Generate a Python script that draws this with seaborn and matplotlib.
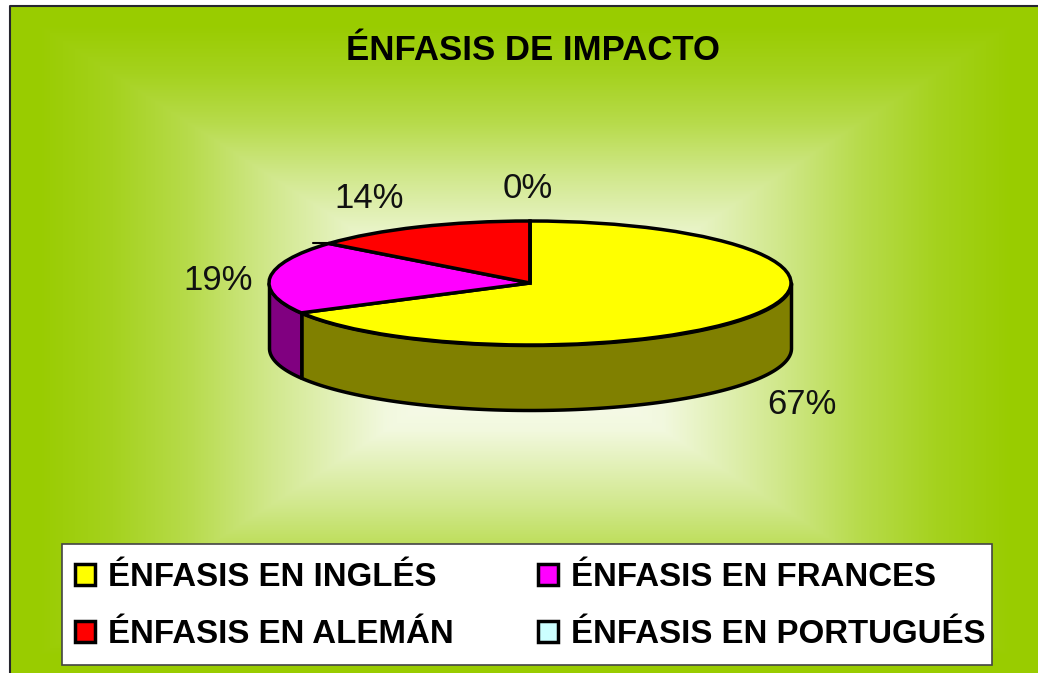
# --- Import Libraries ---
import numpy as np
import matplotlib
matplotlib.use("Agg")
import matplotlib.pyplot as plt
from matplotlib.colors import LinearSegmentedColormap
from matplotlib.patches import Patch, Rectangle
import seaborn as sns

# --- Data ---
title = "ÉNFASIS DE IMPACTO"
categories = ["ÉNFASIS EN INGLÉS", "ÉNFASIS EN FRANCES", "ÉNFASIS EN ALEMÁN", "ÉNFASIS EN PORTUGUÉS"]
shares = [67, 19, 14, 0]
top_colors = ["#FFFF00", "#FF00FF", "#FF0000", "#CCFFFF"]
side_colors = ["#808000", "#800080", "#800000", "#668080"]

W, H = 1038, 673
LINE = 2.5
sns.set_theme(style="white")
plt.rcParams['font.family'] = ['Liberation Sans', 'DejaVu Sans']

fig = plt.figure(figsize=(W / 100, H / 100), dpi=100, facecolor="white")

# --- Background ---
bg = fig.add_axes([0, 0, 1, 1])
bg.set_xlim(0, W)
bg.set_ylim(H, 0)
bg.axis("off")
yy, xx = np.mgrid[6:H, 10:W]
t = np.maximum(np.abs(xx - 524) / 514, np.abs(yy - 340) / 333)
# how far the colour has gone from near white to green, read at a few spots
amount = np.interp(t, [0, 0.27, 0.5, 0.65, 0.8, 0.95], [0, 0.13, 0.46, 0.70, 0.88, 1.0])
cmap = LinearSegmentedColormap.from_list("bg", ["#FFFFFF", "#99CC00"], N=512)
bg.imshow(amount, cmap=cmap, vmin=0, vmax=1, extent=(10, W, H, 6), aspect="auto")
bg.set_xlim(0, W)
bg.set_ylim(H, 0)
bg.plot([10, 10, W], [H, 6, 6], color="#26262e", lw=1.5)

bg.text(533, 51, title, fontsize=25, fontweight="bold", color="black", ha="center", va="center")

# --- 3D looking pie ---
cx, cy, rx, ry, depth = 530, 283, 261, 62, 65
pie_ax = fig.add_axes([(cx - rx) / W, 1 - (cy + ry + depth) / H, 2 * rx / W, (2 * ry + depth) / H])

# side walls, the angle runs clockwise from 12 o'clock like the slices
edges = np.cumsum([0] + shares) / 100 * 2 * np.pi
depth_y = depth / ry
for start, stop, color in zip(edges[:-1], edges[1:], side_colors):
    low, high = max(start, np.pi / 2), min(stop, 3 * np.pi / 2)
    if high <= low:
        continue
    a = np.linspace(low, high, 120)
    pie_ax.fill_between(np.sin(a), np.cos(a), np.cos(a) - depth_y, color=color, ec="black", lw=LINE,
                        zorder=1, clip_on=False)

pie_ax.pie(shares, colors=top_colors, startangle=90, counterclock=False, radius=1,
           wedgeprops={"edgecolor": "black", "linewidth": LINE, "zorder": 2, "clip_on": False}, frame=False)
pie_ax.set_aspect("auto")
pie_ax.set_xlim(-1, 1)
pie_ax.set_ylim(-1 - depth_y, 1)
pie_ax.axis("off")

# little stroke sticking out where the red slice meets the rim
tip = edges[2]
pie_ax.plot([np.sin(tip), np.sin(tip) - 0.06], [np.cos(tip), np.cos(tip)], color="black", lw=1.5,
            zorder=3, clip_on=False)

# --- Percent labels ---
label_pos = [(802, 405), (218, 281), (369, 198), (528, 189)]
for share, (lx, ly) in zip(shares, label_pos):
    bg.text(lx, ly, f"{share}%", fontsize=25, color="#111111", ha="center", va="center")

# --- Legend ---
bg.add_patch(Rectangle((62, 544), 930, 121, facecolor="white", edgecolor="#444444", lw=1.2, zorder=4))
handles = [Patch(facecolor=c, edgecolor="black", linewidth=LINE) for c in top_colors]
order = [0, 2, 1, 3]
leg = bg.legend([handles[i] for i in order], [categories[i] for i in order],
                ncol=2, loc="lower left", bbox_to_anchor=(62, 663), bbox_transform=bg.transData,
                borderaxespad=0, frameon=False, labelcolor="black",
                prop={"size": 23.8, "weight": "bold"}, handlelength=0.6, handleheight=0.6,
                handletextpad=0.4, columnspacing=2.56, labelspacing=0.8, borderpad=0.39)
leg.set_zorder(5)

fig.savefig("out.png", dpi=100)
